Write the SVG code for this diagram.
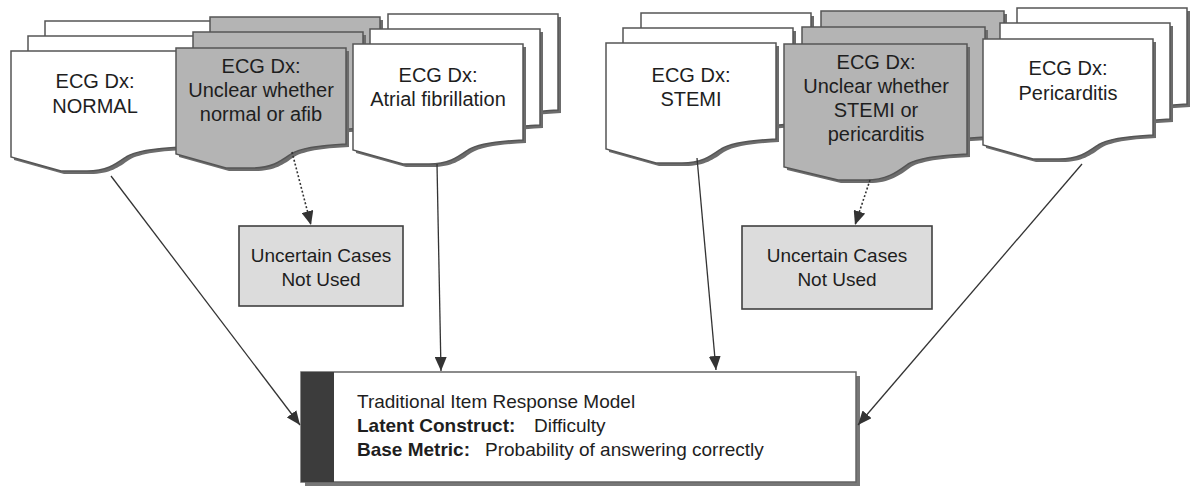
<svg xmlns="http://www.w3.org/2000/svg" xmlns:xlink="http://www.w3.org/1999/xlink" width="1193" height="489" viewBox="0 0 1193 489">
<style>
  .t { font-family: "Liberation Sans", Arial, sans-serif; font-size: 19px; fill: #1e1e1e; }
  .d { font-size: 20px; }
  .c { text-anchor: middle; }
  .b { font-weight: bold; }
  .shd { fill: #6c6c6c; }
  .w { fill: #ffffff; stroke: #555555; stroke-width: 1.5; }
  .g { fill: #b4b4b4; stroke: #555555; stroke-width: 1.5; }
  .box { fill: #dcdcdc; stroke: #404040; stroke-width: 1.6; }
  .edge { fill: none; stroke: #333333; stroke-width: 1.3; }
  .dot { fill: none; stroke: #333333; stroke-width: 1.6; stroke-dasharray: 2 2; }
</style>
<defs>
  <path id="doc" d="M0,0 H170 V96 C150,97 126,99 115,106 C105,113 96,120 76,120 L50,120 L0,106 Z"/>
  <path id="docL" d="M0,0 H183 V110 C162,111 136,113 124,120 C113,128 103,136 82,136 L54,136 L0,123 Z"/>
  <marker id="arr" viewBox="0 0 14 12" refX="14" refY="6" markerWidth="14" markerHeight="12" markerUnits="userSpaceOnUse" orient="auto">
    <path d="M0,0 L14,6 L0,12 Z" fill="#333333"/>
  </marker>
</defs>

<g id="node-normal">
  <use href="#doc" class="shd" x="48" y="24"/>
  <use href="#doc" class="w" x="45" y="21"/>
  <use href="#doc" class="shd" x="31" y="39"/>
  <use href="#doc" class="w" x="28" y="36"/>
  <use href="#doc" class="shd" x="14" y="54"/>
  <use href="#doc" class="w" x="11" y="51"/>
  <text class="t d c" x="95" y="88">ECG Dx:</text>
  <text class="t d c" x="95" y="113">NORMAL</text>
</g>

<g id="node-unclear1">
  <use href="#doc" class="shd" x="213" y="20"/>
  <use href="#doc" class="g" x="210" y="17"/>
  <use href="#doc" class="shd" x="196" y="35"/>
  <use href="#doc" class="g" x="193" y="32"/>
  <use href="#doc" class="shd" x="179" y="51"/>
  <use href="#doc" class="g" x="176" y="48"/>
  <text class="t d c" x="261" y="73">ECG Dx:</text>
  <text class="t d c" x="261" y="97">Unclear whether</text>
  <text class="t d c" x="261" y="121">normal or afib</text>
</g>

<g id="node-afib">
  <use href="#doc" class="shd" x="391" y="17"/>
  <use href="#doc" class="w" x="388" y="14"/>
  <use href="#doc" class="shd" x="373" y="32"/>
  <use href="#doc" class="w" x="370" y="29"/>
  <use href="#doc" class="shd" x="356" y="47"/>
  <use href="#doc" class="w" x="353" y="44"/>
  <text class="t d c" x="438" y="82">ECG Dx:</text>
  <text class="t d c" x="438" y="106">Atrial fibrillation</text>
</g>

<g id="node-stemi">
  <use href="#doc" class="shd" x="644" y="16"/>
  <use href="#doc" class="w" x="641" y="13"/>
  <use href="#doc" class="shd" x="626" y="31"/>
  <use href="#doc" class="w" x="623" y="28"/>
  <use href="#doc" class="shd" x="609" y="46"/>
  <use href="#doc" class="w" x="606" y="43"/>
  <text class="t d c" x="691" y="82">ECG Dx:</text>
  <text class="t d c" x="691" y="106">STEMI</text>
</g>

<g id="node-unclear2">
  <use href="#docL" class="shd" x="824" y="14"/>
  <use href="#docL" class="g" x="821" y="11"/>
  <use href="#docL" class="shd" x="805" y="30"/>
  <use href="#docL" class="g" x="802" y="27"/>
  <use href="#docL" class="shd" x="787" y="47"/>
  <use href="#docL" class="g" x="784" y="44"/>
  <text class="t d c" x="876" y="69">ECG Dx:</text>
  <text class="t d c" x="876" y="93">Unclear whether</text>
  <text class="t d c" x="876" y="117">STEMI or</text>
  <text class="t d c" x="876" y="141">pericarditis</text>
</g>

<g id="node-pericarditis">
  <use href="#doc" class="shd" x="1020" y="11"/>
  <use href="#doc" class="w" x="1017" y="8"/>
  <use href="#doc" class="shd" x="1003" y="26"/>
  <use href="#doc" class="w" x="1000" y="23"/>
  <use href="#doc" class="shd" x="986" y="42"/>
  <use href="#doc" class="w" x="983" y="39"/>
  <text class="t d c" x="1068" y="75">ECG Dx:</text>
  <text class="t d c" x="1068" y="100">Pericarditis</text>
</g>

<g id="node-uncertain1">
  <rect class="box" x="239" y="226" width="164" height="80"/>
  <text class="t c" x="321" y="262">Uncertain Cases</text>
  <text class="t c" x="321" y="286">Not Used</text>
</g>

<g id="node-uncertain2">
  <rect class="box" x="742" y="226" width="190" height="83"/>
  <text class="t c" x="837" y="262">Uncertain Cases</text>
  <text class="t c" x="837" y="286">Not Used</text>
</g>

<g id="node-model">
  <rect x="305" y="376" width="555" height="110" fill="#777777"/>
  <rect x="301" y="372" width="555" height="110" fill="#ffffff" stroke="#666666" stroke-width="1.5"/>
  <rect x="301" y="372" width="33" height="110" fill="#3c3c3c"/>
  <text class="t" x="357" y="408">Traditional Item Response Model</text>
  <text class="t b" x="357" y="432">Latent Construct:</text>
  <text class="t" x="534" y="432">Difficulty</text>
  <text class="t b" x="357" y="456">Base Metric:</text>
  <text class="t" x="485" y="456">Probability of answering correctly</text>
</g>

<g id="connectors">
  <line class="edge" x1="111" y1="176" x2="300" y2="425" marker-end="url(#arr)"/>
  <line class="edge" x1="437" y1="164" x2="441" y2="371" marker-end="url(#arr)"/>
  <line class="edge" x1="697" y1="158" x2="716" y2="370" marker-end="url(#arr)"/>
  <line class="edge" x1="1082" y1="164" x2="858" y2="425" marker-end="url(#arr)"/>
  <line class="dot" x1="292" y1="152" x2="311" y2="225" marker-end="url(#arr)"/>
  <line class="dot" x1="870" y1="180" x2="855" y2="225" marker-end="url(#arr)"/>
</g>
</svg>
